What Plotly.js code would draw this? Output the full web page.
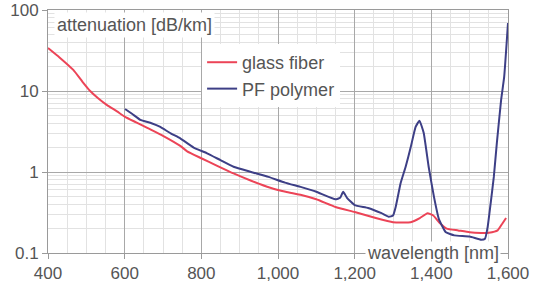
<!DOCTYPE html>
<html>
<head>
<meta charset="utf-8">
<script src="https://cdn.plot.ly/plotly-3.0.1.min.js"></script>
<style>html,body{margin:0;padding:0;background:#fff;}#chart{width:538px;height:290px;}</style>
</head>
<body>
<div id="chart"></div>
<script>
// glass fiber (red)
const glassWavelength = [400, 430, 466, 490, 510, 530, 554, 580, 601, 630, 659, 700, 745, 763, 797, 840, 884, 930, 980, 1020, 1061, 1100, 1150, 1200, 1255, 1300, 1346, 1370, 1390, 1405, 1420, 1440, 1470, 1500, 1530, 1550, 1573, 1585, 1595];
const glassAttenuation = [34, 26, 18.2, 13, 10, 8.2, 6.7, 5.6, 4.8, 4.1, 3.5, 2.8, 2.1, 1.8, 1.5, 1.2, 0.96, 0.78, 0.64, 0.57, 0.52, 0.46, 0.37, 0.32, 0.27, 0.24, 0.24, 0.27, 0.31, 0.29, 0.24, 0.2, 0.19, 0.18, 0.177, 0.178, 0.19, 0.23, 0.27];
// PF polymer (blue)
const pfWavelength = [601, 620, 641, 670, 693, 720, 745, 780, 815, 850, 884, 930, 975, 1018, 1061, 1100, 1150, 1162, 1170, 1180, 1200, 1235, 1270, 1289, 1300, 1307, 1320, 1333, 1346, 1359, 1369, 1380, 1393, 1407, 1420, 1438, 1460, 1500, 1530, 1540, 1547, 1555, 1563, 1571, 1582, 1590, 1600];
const pfAttenuation = [6.0, 5.2, 4.4, 4.0, 3.6, 3.0, 2.6, 2.0, 1.7, 1.4, 1.16, 1.0, 0.87, 0.74, 0.65, 0.57, 0.46, 0.48, 0.57, 0.48, 0.39, 0.36, 0.31, 0.28, 0.29, 0.37, 0.73, 1.16, 2.0, 3.6, 4.3, 3.05, 1.16, 0.49, 0.26, 0.18, 0.165, 0.16, 0.146, 0.15, 0.21, 0.42, 0.87, 2.3, 7.7, 14.9, 69];
// ticks
const xTickVals = [400, 600, 800, 1000, 1200, 1400, 1600];
const xTickText = ["400", "600", "800", "1,000", "1,200", "1,400", "1,600"];
const yTickVals = [0.1, 1, 10, 100];
const yTickText = ["0.1", "1", "10", "100"];
const seriesNames = ["glass fiber", "PF polymer"];
const yTitle = "attenuation [dB/km]";
const xTitle = "wavelength [nm]";

const font = "Liberation Sans, Arial, sans-serif";
const textColor = "#555";

const traces = [
  {x: glassWavelength, y: glassAttenuation, name: seriesNames[0], type: "scatter", mode: "lines",
   line: {color: "#ec4457", width: 2, shape: "spline", smoothing: 0.4}},
  {x: pfWavelength, y: pfAttenuation, name: seriesNames[1], type: "scatter", mode: "lines",
   line: {color: "#3d3f86", width: 2, shape: "spline", smoothing: 0.4}}
];

const layout = {
  width: 538, height: 290,
  margin: {l: 48, r: 30, t: 10, b: 37},
  paper_bgcolor: "#ffffff", plot_bgcolor: "#ffffff",
  font: {family: font, size: 17, color: textColor},
  showlegend: true,
  legend: {x: 0.335, y: 0.86, xanchor: "left", yanchor: "top", bgcolor: "#ffffff",
           font: {family: font, size: 18, color: textColor}, itemwidth: 30, tracegroupgap: 0},
  xaxis: {
    range: [400, 1600], tickvals: xTickVals, ticktext: xTickText,
    showline: true, linecolor: "#9a9a9a", linewidth: 1, mirror: true,
    ticks: "outside", ticklen: 5, tickcolor: "#9a9a9a",
    showgrid: true, gridcolor: "#a8a8a8", gridwidth: 1,
    minor: {dtick: 50, showgrid: true, gridcolor: "#e2e2e2", ticks: ""},
    tickfont: {family: font, size: 17, color: textColor}, zeroline: false
  },
  yaxis: {
    type: "log", range: [-1, 2], tickvals: yTickVals, ticktext: yTickText,
    showline: true, linecolor: "#9a9a9a", linewidth: 1, mirror: true,
    ticks: "outside", ticklen: 5, tickcolor: "#9a9a9a",
    showgrid: true, gridcolor: "#a8a8a8", gridwidth: 1,
    minor: {dtick: "D1", showgrid: true, gridcolor: "#e2e2e2", ticks: ""},
    tickfont: {family: font, size: 17, color: textColor}, zeroline: false
  },
  annotations: [
    {xref: "paper", yref: "paper", x: 0.012, y: 0.94, xanchor: "left", yanchor: "middle",
     text: yTitle, showarrow: false, bgcolor: "#ffffff", borderpad: 2,
     font: {family: font, size: 18, color: textColor}},
    {xref: "paper", yref: "paper", x: 0.985, y: 0, xanchor: "right", yanchor: "middle",
     text: xTitle, showarrow: false, bgcolor: "#ffffff", borderpad: 1,
     font: {family: font, size: 18, color: textColor}}
  ]
};

Plotly.newPlot("chart", traces, layout, {staticPlot: true, displayModeBar: false});
</script>
</body>
</html>
